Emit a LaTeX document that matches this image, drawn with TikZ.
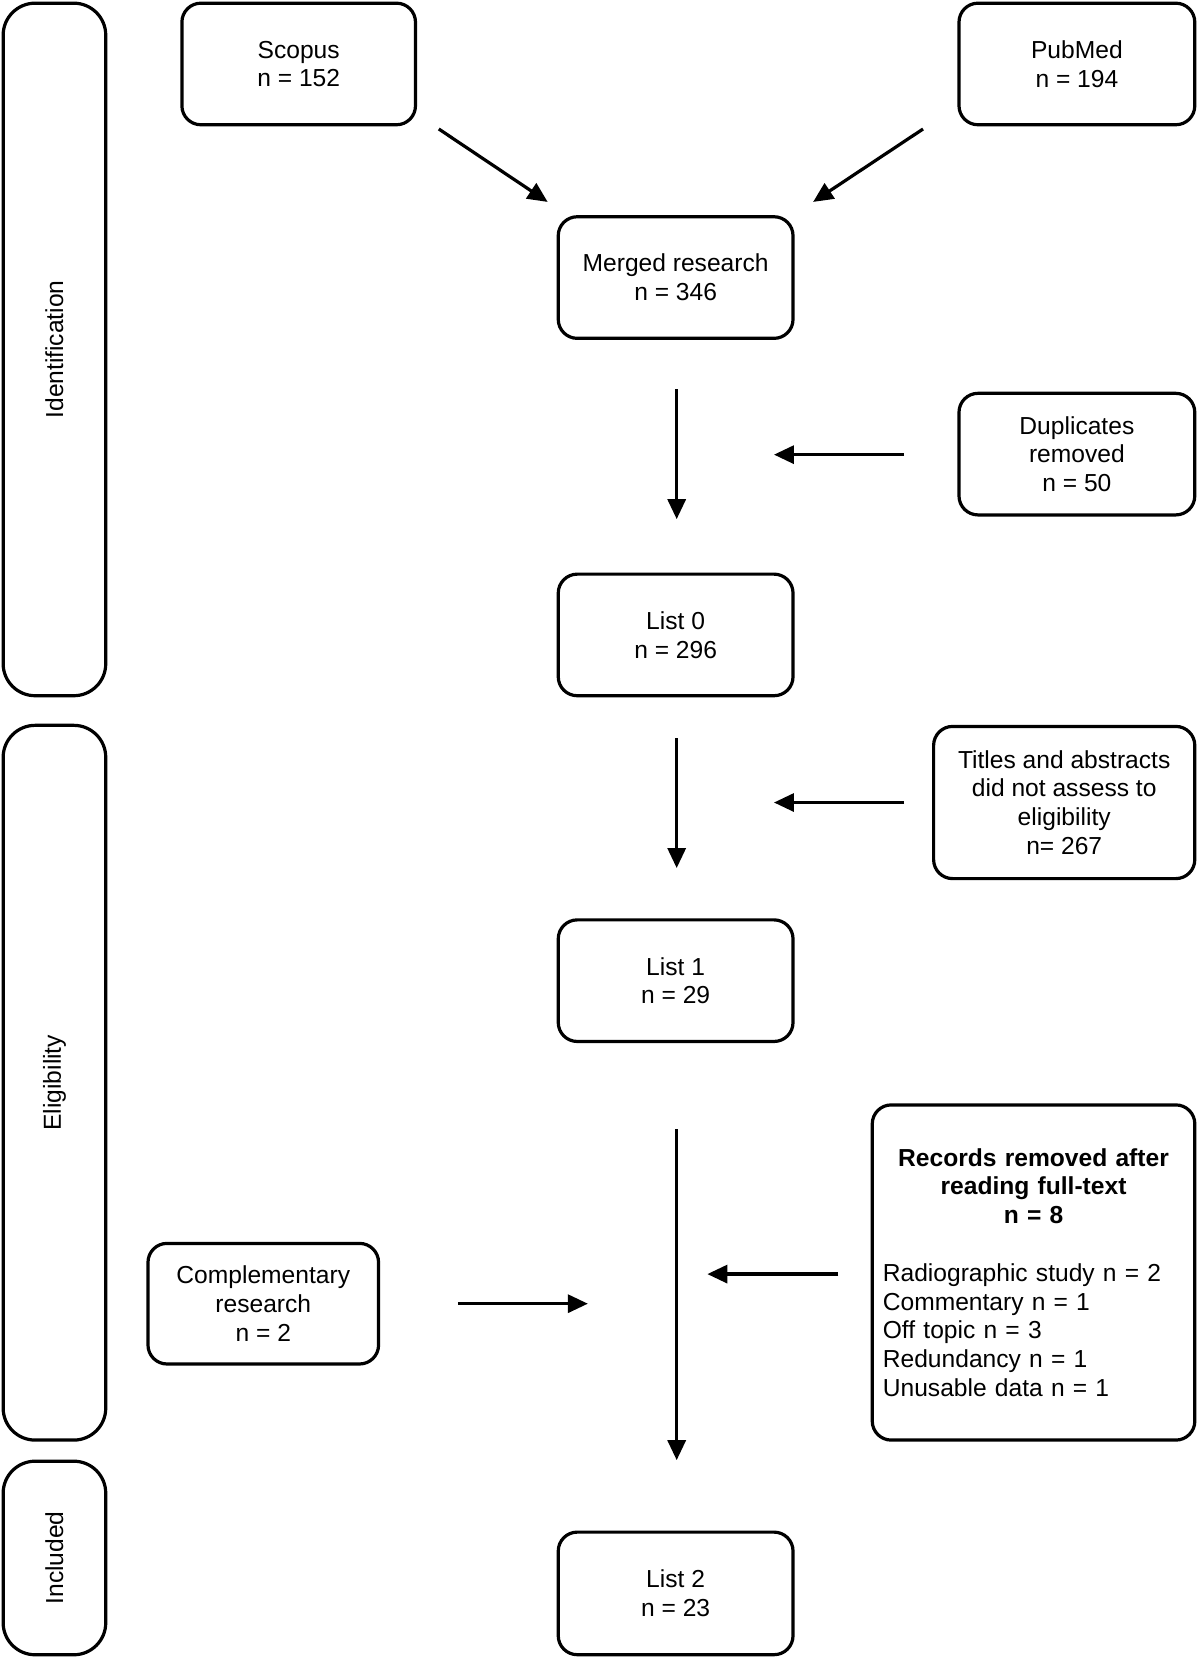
\documentclass[tikz,border=0pt]{standalone}
\usepackage{fontspec}
\setmainfont{Liberation Sans}
\usetikzlibrary{arrows.meta}
\begin{document}
\begin{tikzpicture}[x=0.5287pt,y=-0.5287pt,
  font=\fontsize{12.3}{14.4}\selectfont,
  box/.style={draw, line width=1.6pt, rounded corners=9.5pt, align=center, inner sep=0pt},
  side/.style={draw, line width=1.6pt, rounded corners=16pt, minimum width=51.3pt, inner sep=0pt},
  flow/.style={line width=1.6pt, -{Triangle[length=10pt,width=9pt]}}]
\useasboundingbox (0,0) rectangle (1135,1570);
% side bars
\node[side, minimum height=346.3pt] (sid) at (51.5,330.5) {};
\node[rotate=90] (lid) at (sid.center) {Identification};
\node[side, minimum height=357.4pt] (sel) at (51.5,1024) {};
\node[rotate=90] (lel) at (sel.center) {Eligibility};
\node[side, minimum height=96.8pt] (sin) at (51.5,1473.5) {};
\node[rotate=90] (lin) at (sin.center) {Included};
% boxes
\node[box, minimum width=116.8pt, minimum height=60.8pt] (scopus) at (282.5,60.5) {Scopus\\n = 152};
\node[box, minimum width=117.9pt, minimum height=60.8pt] (pubmed) at (1018.5,60.5) {PubMed\\n = 194};
\node[box, minimum width=117.4pt, minimum height=60.8pt] (merged) at (639,262.5) {Merged research\\n = 346};
\node[box, minimum width=117.9pt, minimum height=60.8pt] (dup) at (1018.5,429.5) {Duplicates\\removed\\n = 50};
\node[box, minimum width=117.4pt, minimum height=60.8pt] (list0) at (639,600.5) {List 0\\n = 296};
\node[box, minimum width=130.6pt, minimum height=76.1pt] (titles) at (1006.5,759) {Titles and abstracts\\did not assess to\\eligibility\\n= 267};
\node[box, minimum width=117.4pt, minimum height=60.8pt] (list1) at (639,927.5) {List 1\\n = 29};
\node[box, minimum width=161.3pt, minimum height=167.6pt, text width=150.7pt, inner sep=5.3pt, align=left] (rec) at (977.5,1203.5)
  {{\centering\bfseries Records removed after\\reading full-text\\n = 8\par}\vspace{14.4pt}Radiographic study n = 2\\Commentary n = 1\\Off topic n = 3\\Redundancy n = 1\\Unusable data n = 1};
\node[box, minimum width=115.3pt, minimum height=60.3pt] (comp) at (249,1233) {Complementary\\research\\n = 2};
\node[box, minimum width=117.4pt, minimum height=61.3pt] (list2) at (639,1507) {List 2\\n = 23};
% arrow end points
\coordinate (a1s) at (415,122); \coordinate (a1e) at (518,191);
\coordinate (a2s) at (873,122); \coordinate (a2e) at (769,191);
\coordinate (a3s) at (640,368); \coordinate (a3e) at (640,491);
\coordinate (a4s) at (855,430); \coordinate (a4e) at (732,430);
\coordinate (a5s) at (640,698); \coordinate (a5e) at (640,821);
\coordinate (a6s) at (855,759); \coordinate (a6e) at (732,759);
\coordinate (a7s) at (640,1068); \coordinate (a7e) at (640,1381);
\coordinate (a8s) at (793,1205); \coordinate (a8e) at (669,1205);
\coordinate (a9s) at (433,1233); \coordinate (a9e) at (556,1233);
\draw[flow] (a1s) -- (a1e);
\draw[flow] (a2s) -- (a2e);
\draw[flow] (a3s) -- (a3e);
\draw[flow] (a4s) -- (a4e);
\draw[flow] (a5s) -- (a5e);
\draw[flow] (a6s) -- (a6e);
\draw[flow] (a7s) -- (a7e);
\draw[flow] (a8s) -- (a8e);
\draw[flow] (a9s) -- (a9e);
\end{tikzpicture}
\end{document}
